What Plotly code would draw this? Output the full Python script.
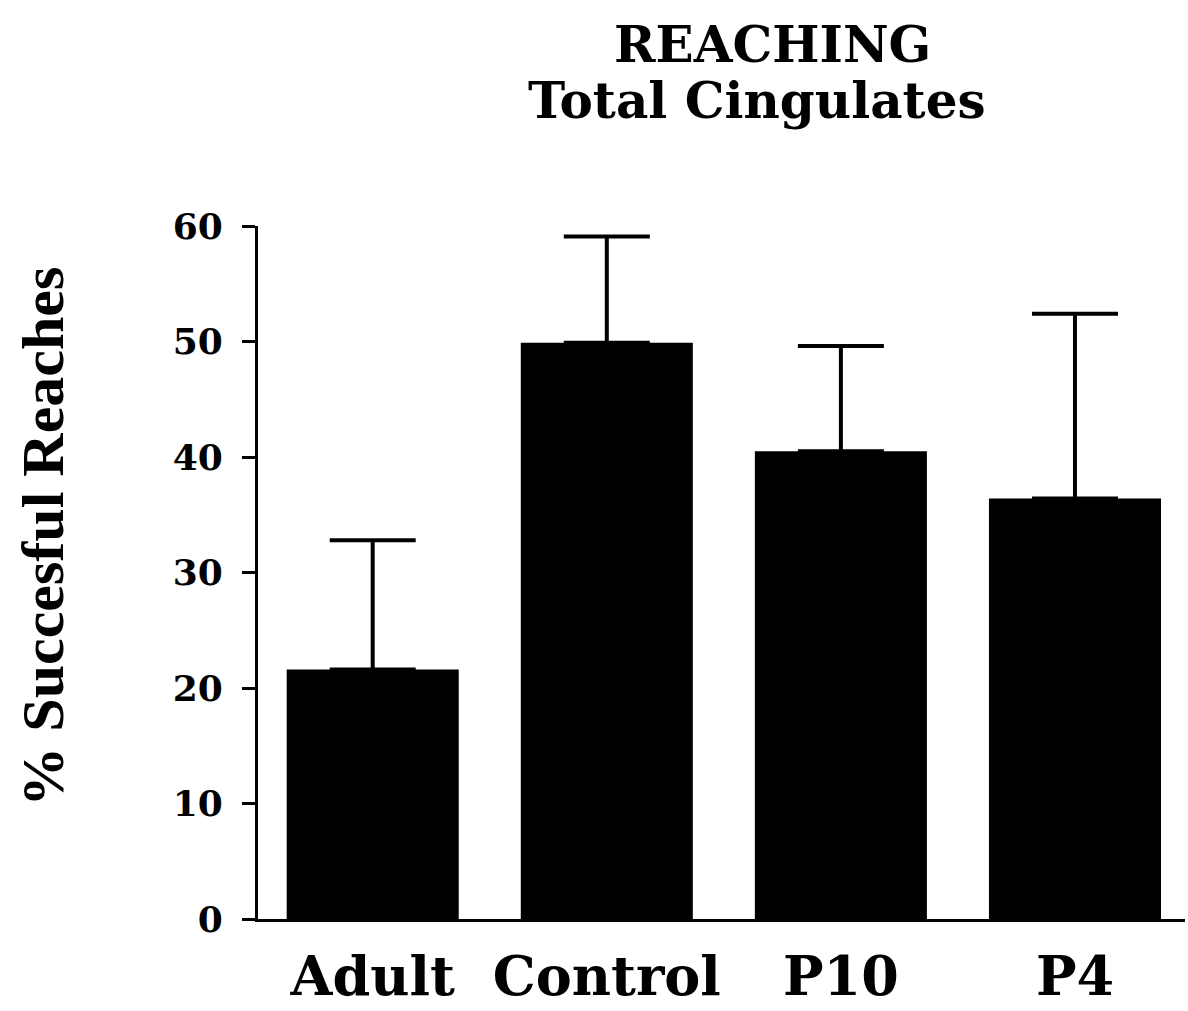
import plotly.graph_objects as go

# Reaching success per group (mean with upper SEM whisker)
groups = ["Adult", "Control", "P10", "P4"]
success_pct = [21.6, 49.9, 40.5, 36.4]
error_upper = [11.2, 9.2, 9.1, 16.0]

y_ticks = [0, 10, 20, 30, 40, 50, 60]

FONT = "DejaVu Serif"
TITLE_FONT = "Liberation Serif"

# plot-area geometry in pixels, used to place the free-floating labels
L, R, T, B = 258, 3, 226, 89
W, H = 1188, 1011
plot_w = W - L - R
plot_h = H - T - B

fig = go.Figure(
    go.Bar(
        x=groups,
        y=success_pct,
        width=0.735,
        marker=dict(color="black", line=dict(width=0)),
        error_y=dict(
            type="data",
            symmetric=False,
            array=error_upper,
            arrayminus=[0] * len(groups),
            color="black",
            thickness=4,
            width=43,
        ),
    )
)

def px_x(x):
    return (x - L) / plot_w

def px_y(y):
    return (H - B - y) / plot_h

fig.update_layout(
    width=W,
    height=H,
    margin=dict(l=L, r=R, t=T, b=B),
    paper_bgcolor="white",
    plot_bgcolor="white",
    showlegend=False,
    font=dict(family=FONT, color="black"),
    annotations=[
        dict(
            text="<b>REACHING</b>",
            xref="paper", yref="paper",
            x=px_x(772), y=px_y(44),
            xanchor="center", yanchor="middle",
            showarrow=False,
            font=dict(family=FONT, size=50, color="black"),
        ),
        dict(
            text="<b>Total Cingulates</b>",
            xref="paper", yref="paper",
            x=px_x(757), y=px_y(100),
            xanchor="center", yanchor="middle",
            showarrow=False,
            font=dict(family=FONT, size=50, color="black"),
        ),
        dict(
            text="<b>% Succesful Reaches</b>",
            xref="paper", yref="paper",
            x=px_x(43), y=px_y(538),
            xanchor="center", yanchor="middle",
            textangle=-90,
            showarrow=False,
            font=dict(family=TITLE_FONT, size=60, color="black"),
        ),
    ],
)

fig.update_xaxes(
    type="category",
    range=[-0.49, 3.47],
    showline=True,
    linecolor="black",
    linewidth=3,
    ticks="",
    showgrid=False,
    tickfont=dict(family=FONT, size=54, color="black", weight="bold"),
    ticklabelstandoff=8,
)

fig.update_yaxes(
    range=[0, 60],
    tickvals=y_ticks,
    showline=True,
    linecolor="black",
    linewidth=3,
    ticks="outside",
    ticklen=13,
    tickwidth=3,
    tickcolor="black",
    showgrid=False,
    zeroline=False,
    tickfont=dict(family=FONT, size=36, color="black", weight="bold"),
    ticklabelstandoff=12,
)

fig.write_html("out.html")
